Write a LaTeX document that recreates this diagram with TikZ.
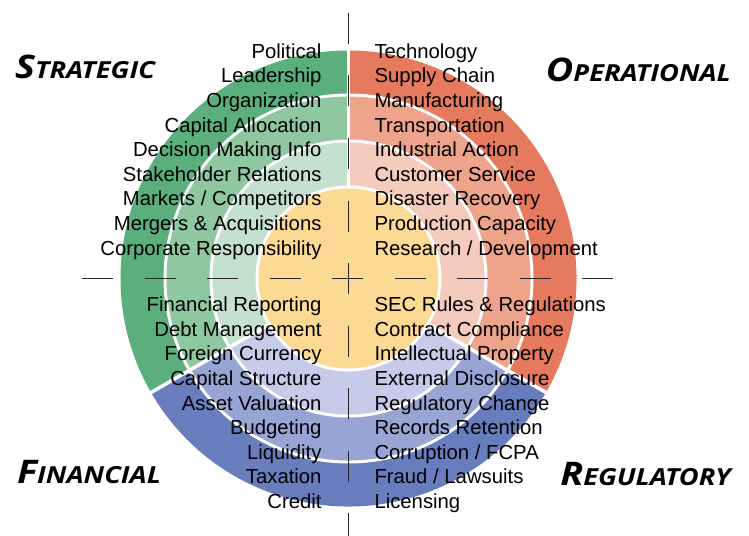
\documentclass[tikz,border=0pt]{standalone}
\usepackage{fontspec}
\usepackage{xcolor}
\setmainfont{Liberation Sans}
\newfontfamily\headfont[FakeStretch=1.16]{Open Sans}
\usetikzlibrary{calc}

\definecolor{gOne}{HTML}{5AAF7D}
\definecolor{gTwo}{HTML}{8FC7A0}
\definecolor{gThree}{HTML}{C4E1CF}
\definecolor{oOne}{HTML}{E57A5E}
\definecolor{oTwo}{HTML}{EEA38B}
\definecolor{oThree}{HTML}{F5CBBD}
\definecolor{bOne}{HTML}{687DBE}
\definecolor{bTwo}{HTML}{98A4D4}
\definecolor{bThree}{HTML}{C7CBE9}
\definecolor{core}{HTML}{FDDA94}

\newcommand{\hd}[2]{{\fontsize{32.5bp}{33bp}\selectfont #1}{\fontsize{23.5bp}{24bp}\selectfont #2}}

\begin{document}
\begin{tikzpicture}[x=1bp, y=1bp,
  lbl/.style={inner sep=0pt, font=\fontsize{20.3bp}{24bp}\selectfont},
  head/.style={inner sep=0pt, font=\headfont\bfseries\itshape},
  axis/.style={draw=black!85, line width=0.9bp, dash pattern=on 31bp off 31.5bp},
  gap/.style={draw=white, line width=3.5bp}]

\useasboundingbox (0,0) rectangle (749,-536);

\coordinate (c) at (348.5,-278.5);
\coordinate (t) at (348.5,-13);
\coordinate (b) at (348.5,-536);
\coordinate (l) at (82,-278.5);
\coordinate (r) at (613,-278.5);

% outer ring
\fill[gOne] (c) -- ++(90:228bp) arc[start angle=90, end angle=210, radius=228bp] -- cycle;
\fill[bOne] (c) -- ++(210:228bp) arc[start angle=210, end angle=330, radius=228bp] -- cycle;
\fill[oOne] (c) -- ++(-30:228bp) arc[start angle=-30, end angle=90, radius=228bp] -- cycle;
\fill[white] (c) circle[radius=185bp];

% middle ring
\fill[gTwo] (c) -- ++(90:182bp) arc[start angle=90, end angle=210, radius=182bp] -- cycle;
\fill[bTwo] (c) -- ++(210:182bp) arc[start angle=210, end angle=330, radius=182bp] -- cycle;
\fill[oTwo] (c) -- ++(-30:182bp) arc[start angle=-30, end angle=90, radius=182bp] -- cycle;
\fill[white] (c) circle[radius=139bp];

% inner ring
\fill[gThree] (c) -- ++(90:136bp) arc[start angle=90, end angle=210, radius=136bp] -- cycle;
\fill[bThree] (c) -- ++(210:136bp) arc[start angle=210, end angle=330, radius=136bp] -- cycle;
\fill[oThree] (c) -- ++(-30:136bp) arc[start angle=-30, end angle=90, radius=136bp] -- cycle;
\fill[white] (c) circle[radius=93bp];

\path[gap] ($(c)+(90:92bp)$) -- ($(c)+(90:229bp)$);
\path[gap] ($(c)+(210:92bp)$) -- ($(c)+(210:229bp)$);
\path[gap] ($(c)+(330:92bp)$) -- ($(c)+(330:229bp)$);

\fill[core] (c) circle[radius=90bp];

\path[axis] (t) -- (b);
\path[axis] (l) -- (r);

% headings
\node[head, anchor=base west] (st) at (15,-78.3) {\hd{S}{TRATEGIC}};
\node[head, anchor=base east] (op) at (731,-81.5) {\hd{O}{PERATIONAL}};
\node[head, anchor=base west] (fi) at (17,-483) {\hd{F}{INANCIAL}};
\node[head, anchor=base east] (re) at (731,-485) {\hd{R}{EGULATORY}};

% strategic
\node[lbl, anchor=base east] (s1) at (321.7,-58.3) {Political};
\node[lbl, anchor=base east] (s2) at (321.7,-82.9) {Leadership};
\node[lbl, anchor=base east] (s3) at (321.7,-107.5) {Organization};
\node[lbl, anchor=base east] (s4) at (321.7,-132.1) {Capital Allocation};
\node[lbl, anchor=base east] (s5) at (321.7,-156.7) {Decision Making Info};
\node[lbl, anchor=base east] (s6) at (321.7,-181.3) {Stakeholder Relations};
\node[lbl, anchor=base east] (s7) at (321.7,-205.9) {Markets / Competitors};
\node[lbl, anchor=base east] (s8) at (321.7,-230.5) {Mergers \& Acquisitions};
\node[lbl, anchor=base east] (s9) at (321.7,-255.1) {Corporate Responsibility};

% operational
\node[lbl, anchor=base west] (o1) at (374.3,-58.3) {Technology};
\node[lbl, anchor=base west] (o2) at (374.3,-82.9) {Supply Chain};
\node[lbl, anchor=base west] (o3) at (374.3,-107.5) {Manufacturing};
\node[lbl, anchor=base west] (o4) at (374.3,-132.1) {Transportation};
\node[lbl, anchor=base west] (o5) at (374.3,-156.7) {Industrial Action};
\node[lbl, anchor=base west] (o6) at (374.3,-181.3) {Customer Service};
\node[lbl, anchor=base west] (o7) at (374.3,-205.9) {Disaster Recovery};
\node[lbl, anchor=base west] (o8) at (374.3,-230.5) {Production Capacity};
\node[lbl, anchor=base west] (o9) at (374.3,-255.1) {Research / Development};

% financial
\node[lbl, anchor=base east] (f1) at (321.7,-311.7) {Financial Reporting};
\node[lbl, anchor=base east] (f2) at (321.7,-336.3) {Debt Management};
\node[lbl, anchor=base east] (f3) at (321.7,-360.9) {Foreign Currency};
\node[lbl, anchor=base east] (f4) at (321.7,-385.5) {Capital Structure};
\node[lbl, anchor=base east] (f5) at (321.7,-410.1) {Asset Valuation};
\node[lbl, anchor=base east] (f6) at (321.7,-434.7) {Budgeting};
\node[lbl, anchor=base east] (f7) at (321.7,-459.3) {Liquidity};
\node[lbl, anchor=base east] (f8) at (321.7,-483.9) {Taxation};
\node[lbl, anchor=base east] (f9) at (321.7,-508.5) {Credit};

% regulatory
\node[lbl, anchor=base west] (r1) at (374.3,-311.7) {SEC Rules \& Regulations};
\node[lbl, anchor=base west] (r2) at (374.3,-336.3) {Contract Compliance};
\node[lbl, anchor=base west] (r3) at (374.3,-360.9) {Intellectual Property};
\node[lbl, anchor=base west] (r4) at (374.3,-385.5) {External Disclosure};
\node[lbl, anchor=base west] (r5) at (374.3,-410.1) {Regulatory Change};
\node[lbl, anchor=base west] (r6) at (374.3,-434.7) {Records Retention};
\node[lbl, anchor=base west] (r7) at (374.3,-459.3) {Corruption / FCPA};
\node[lbl, anchor=base west] (r8) at (374.3,-483.9) {Fraud / Lawsuits};
\node[lbl, anchor=base west] (r9) at (374.3,-508.5) {Licensing};

\end{tikzpicture}
\end{document}
